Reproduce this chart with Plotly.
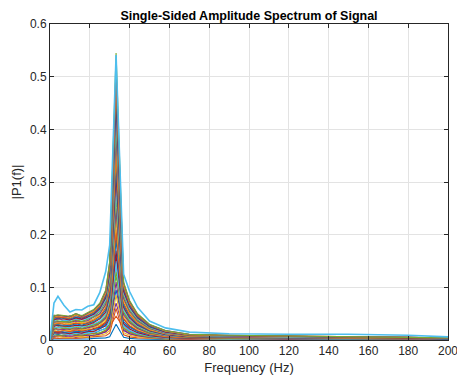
import plotly.graph_objects as go

# Frequency grid (Hz) shared by all spectra
freq = [0, 2, 4, 7, 10, 13, 16, 19, 22, 25, 28, 30, 33.2, 37, 40, 44, 50, 58, 70, 90, 120, 150, 180, 200]

# Amplitude spectra |P1(f)| (one list per signal, drawn in this order)
t00 = [0, 0.012, 0.010, 0.014, 0.011, 0.009, 0.013, 0.015, 0.012, 0.018, 0.022, 0.030, 0.095, 0.028, 0.017, 0.011, 0.007, 0.004, 0.003, 0.002, 0.002, 0.002, 0.001, 0.001]
t01 = [0, 0.030, 0.026, 0.022, 0.028, 0.024, 0.020, 0.027, 0.031, 0.026, 0.034, 0.050, 0.200, 0.060, 0.038, 0.024, 0.014, 0.008, 0.005, 0.004, 0.003, 0.003, 0.003, 0.002]
t02 = [0, 0.041, 0.036, 0.030, 0.034, 0.039, 0.033, 0.030, 0.037, 0.045, 0.058, 0.088, 0.360, 0.080, 0.050, 0.033, 0.020, 0.012, 0.008, 0.006, 0.005, 0.004, 0.004, 0.003]
t03 = [0, 0.005, 0.009, 0.006, 0.008, 0.005, 0.007, 0.010, 0.007, 0.011, 0.016, 0.022, 0.070, 0.020, 0.012, 0.008, 0.005, 0.003, 0.002, 0.002, 0.001, 0.001, 0.001, 0.001]
t04 = [0, 0.020, 0.024, 0.027, 0.022, 0.019, 0.025, 0.029, 0.024, 0.031, 0.040, 0.062, 0.240, 0.052, 0.034, 0.022, 0.013, 0.008, 0.005, 0.004, 0.003, 0.003, 0.002, 0.002]
t05 = [0, 0.035, 0.031, 0.038, 0.033, 0.029, 0.036, 0.034, 0.040, 0.050, 0.066, 0.104, 0.400, 0.090, 0.058, 0.038, 0.023, 0.013, 0.008, 0.007, 0.006, 0.005, 0.004, 0.003]
t06 = [0, 0.016, 0.014, 0.018, 0.020, 0.015, 0.019, 0.017, 0.022, 0.024, 0.032, 0.046, 0.160, 0.040, 0.026, 0.017, 0.010, 0.006, 0.004, 0.003, 0.003, 0.002, 0.002, 0.001]
t07 = [0, 0.044, 0.040, 0.044, 0.038, 0.042, 0.047, 0.043, 0.050, 0.060, 0.080, 0.125, 0.440, 0.100, 0.066, 0.044, 0.027, 0.016, 0.009, 0.008, 0.007, 0.006, 0.005, 0.004]
t08 = [0, 0.008, 0.006, 0.010, 0.012, 0.009, 0.007, 0.011, 0.013, 0.012, 0.018, 0.026, 0.045, 0.024, 0.014, 0.009, 0.006, 0.004, 0.003, 0.002, 0.002, 0.001, 0.001, 0.001]
t09 = [0, 0.027, 0.030, 0.025, 0.029, 0.033, 0.028, 0.031, 0.034, 0.040, 0.052, 0.080, 0.300, 0.070, 0.045, 0.029, 0.017, 0.010, 0.006, 0.005, 0.004, 0.004, 0.003, 0.002]
t10 = [0, 0.038, 0.042, 0.036, 0.041, 0.037, 0.043, 0.040, 0.045, 0.056, 0.074, 0.116, 0.420, 0.094, 0.062, 0.041, 0.025, 0.015, 0.009, 0.007, 0.006, 0.006, 0.005, 0.003]
t11 = [0, 0.024, 0.019, 0.023, 0.026, 0.022, 0.018, 0.024, 0.029, 0.034, 0.044, 0.068, 0.120, 0.058, 0.036, 0.023, 0.014, 0.008, 0.005, 0.004, 0.004, 0.003, 0.003, 0.002]
t12 = [0, 0.013, 0.017, 0.015, 0.012, 0.017, 0.015, 0.013, 0.018, 0.021, 0.028, 0.040, 0.140, 0.034, 0.022, 0.014, 0.009, 0.005, 0.003, 0.003, 0.002, 0.002, 0.002, 0.001]
t13 = [0, 0.047, 0.045, 0.041, 0.046, 0.043, 0.040, 0.047, 0.054, 0.064, 0.086, 0.136, 0.480, 0.104, 0.070, 0.047, 0.028, 0.017, 0.010, 0.008, 0.007, 0.006, 0.006, 0.004]

s00 = [0, 0.002, 0.002, 0.002, 0.001, 0.002, 0.002, 0.002, 0.003, 0.003, 0.004, 0.006, 0.030, 0.005, 0.003, 0.002, 0.001, 0.001, 0.001, 0.001, 0.001, 0.001, 0.001, 0.001]
s01 = [0, 0.004, 0.003, 0.004, 0.004, 0.003, 0.004, 0.004, 0.005, 0.007, 0.008, 0.013, 0.060, 0.010, 0.006, 0.004, 0.003, 0.002, 0.001, 0.001, 0.001, 0.001, 0.001, 0.001]
s02 = [0, 0.006, 0.007, 0.005, 0.005, 0.007, 0.006, 0.006, 0.008, 0.009, 0.012, 0.018, 0.085, 0.014, 0.009, 0.006, 0.004, 0.002, 0.002, 0.001, 0.001, 0.001, 0.001, 0.001]
s03 = [0, 0.007, 0.008, 0.009, 0.007, 0.008, 0.010, 0.008, 0.009, 0.012, 0.015, 0.024, 0.110, 0.018, 0.012, 0.008, 0.005, 0.003, 0.002, 0.002, 0.001, 0.001, 0.001, 0.001]
s04 = [0, 0.010, 0.009, 0.009, 0.011, 0.010, 0.009, 0.012, 0.011, 0.014, 0.019, 0.030, 0.130, 0.022, 0.015, 0.010, 0.006, 0.004, 0.003, 0.002, 0.002, 0.002, 0.001, 0.001]
s05 = [0, 0.011, 0.013, 0.011, 0.010, 0.013, 0.012, 0.013, 0.015, 0.017, 0.023, 0.036, 0.150, 0.026, 0.018, 0.012, 0.007, 0.004, 0.003, 0.002, 0.002, 0.002, 0.002, 0.001]
s06 = [0, 0.014, 0.013, 0.014, 0.012, 0.015, 0.013, 0.016, 0.016, 0.021, 0.027, 0.042, 0.170, 0.031, 0.021, 0.014, 0.008, 0.005, 0.003, 0.003, 0.002, 0.003, 0.002, 0.001]
s07 = [0, 0.015, 0.017, 0.015, 0.015, 0.016, 0.016, 0.017, 0.020, 0.022, 0.030, 0.048, 0.190, 0.035, 0.024, 0.016, 0.010, 0.006, 0.004, 0.003, 0.003, 0.002, 0.002, 0.001]
s08 = [0, 0.017, 0.016, 0.018, 0.016, 0.019, 0.017, 0.020, 0.021, 0.026, 0.034, 0.054, 0.210, 0.040, 0.027, 0.018, 0.011, 0.006, 0.004, 0.003, 0.003, 0.003, 0.002, 0.002]
s09 = [0, 0.018, 0.020, 0.019, 0.018, 0.021, 0.019, 0.021, 0.024, 0.028, 0.038, 0.060, 0.230, 0.044, 0.030, 0.020, 0.012, 0.007, 0.005, 0.004, 0.003, 0.003, 0.002, 0.002]
s10 = [0, 0.021, 0.021, 0.020, 0.022, 0.021, 0.022, 0.023, 0.026, 0.032, 0.042, 0.066, 0.250, 0.048, 0.033, 0.022, 0.013, 0.008, 0.005, 0.004, 0.004, 0.003, 0.003, 0.002]
s11 = [0, 0.022, 0.024, 0.022, 0.021, 0.025, 0.022, 0.026, 0.028, 0.034, 0.046, 0.072, 0.270, 0.053, 0.036, 0.024, 0.014, 0.009, 0.005, 0.004, 0.004, 0.003, 0.003, 0.002]
s12 = [0, 0.025, 0.024, 0.025, 0.023, 0.026, 0.025, 0.027, 0.031, 0.036, 0.049, 0.078, 0.290, 0.057, 0.039, 0.026, 0.016, 0.009, 0.006, 0.005, 0.004, 0.004, 0.003, 0.002]
s13 = [0, 0.026, 0.028, 0.026, 0.026, 0.028, 0.027, 0.029, 0.033, 0.040, 0.053, 0.084, 0.310, 0.062, 0.042, 0.028, 0.017, 0.010, 0.006, 0.005, 0.004, 0.004, 0.003, 0.002]
s14 = [0, 0.029, 0.029, 0.028, 0.027, 0.031, 0.028, 0.032, 0.035, 0.042, 0.057, 0.090, 0.330, 0.066, 0.045, 0.030, 0.018, 0.011, 0.007, 0.005, 0.005, 0.004, 0.004, 0.002]
s15 = [0, 0.030, 0.032, 0.030, 0.030, 0.032, 0.031, 0.033, 0.038, 0.045, 0.061, 0.096, 0.350, 0.070, 0.048, 0.032, 0.019, 0.012, 0.007, 0.006, 0.005, 0.004, 0.004, 0.003]
s16 = [0, 0.032, 0.033, 0.033, 0.031, 0.035, 0.032, 0.036, 0.040, 0.048, 0.065, 0.102, 0.370, 0.075, 0.051, 0.034, 0.020, 0.012, 0.007, 0.006, 0.005, 0.005, 0.004, 0.003]
s17 = [0, 0.034, 0.035, 0.034, 0.034, 0.036, 0.035, 0.037, 0.043, 0.050, 0.068, 0.108, 0.390, 0.079, 0.054, 0.036, 0.022, 0.013, 0.008, 0.006, 0.006, 0.005, 0.004, 0.003]
s18 = [0, 0.036, 0.036, 0.035, 0.034, 0.039, 0.035, 0.040, 0.044, 0.054, 0.072, 0.114, 0.410, 0.084, 0.057, 0.038, 0.023, 0.014, 0.008, 0.007, 0.006, 0.005, 0.005, 0.003]
s19 = [0, 0.037, 0.039, 0.037, 0.037, 0.040, 0.038, 0.041, 0.047, 0.056, 0.076, 0.120, 0.430, 0.088, 0.060, 0.040, 0.024, 0.014, 0.009, 0.007, 0.006, 0.006, 0.005, 0.003]
s20 = [0, 0.039, 0.040, 0.040, 0.038, 0.042, 0.039, 0.044, 0.049, 0.059, 0.080, 0.126, 0.450, 0.092, 0.063, 0.042, 0.025, 0.015, 0.009, 0.008, 0.007, 0.006, 0.005, 0.003]
s21 = [0, 0.041, 0.043, 0.041, 0.040, 0.044, 0.042, 0.046, 0.051, 0.062, 0.084, 0.132, 0.470, 0.097, 0.066, 0.044, 0.026, 0.016, 0.010, 0.008, 0.007, 0.006, 0.005, 0.004]
s22 = [0, 0.043, 0.044, 0.043, 0.041, 0.047, 0.043, 0.048, 0.053, 0.064, 0.087, 0.138, 0.490, 0.101, 0.069, 0.046, 0.028, 0.017, 0.010, 0.008, 0.007, 0.006, 0.006, 0.004]
s23 = [0, 0.044, 0.046, 0.045, 0.043, 0.048, 0.045, 0.049, 0.055, 0.066, 0.090, 0.143, 0.505, 0.105, 0.071, 0.048, 0.029, 0.017, 0.010, 0.009, 0.008, 0.007, 0.006, 0.004]
s24 = [0, 0.045, 0.047, 0.046, 0.044, 0.050, 0.045, 0.051, 0.057, 0.068, 0.093, 0.147, 0.520, 0.108, 0.073, 0.049, 0.029, 0.018, 0.011, 0.009, 0.008, 0.007, 0.006, 0.004]
s25 = [0, 0.046, 0.048, 0.047, 0.045, 0.050, 0.046, 0.052, 0.058, 0.070, 0.095, 0.150, 0.545, 0.110, 0.075, 0.050, 0.030, 0.018, 0.011, 0.009, 0.008, 0.007, 0.006, 0.004]
s26 = [0, 0.070, 0.083, 0.066, 0.053, 0.058, 0.057, 0.064, 0.067, 0.090, 0.130, 0.180, 0.541, 0.125, 0.092, 0.062, 0.036, 0.023, 0.015, 0.012, 0.011, 0.011, 0.009, 0.006]

spectra = [t00, t01, t02, t03, t04, t05, t06, t07, t08, t09, t10, t11, t12, t13,
           s00, s01, s02, s03, s04, s05, s06, s07, s08, s09, s10, s11, s12, s13,
           s14, s15, s16, s17, s18, s19, s20, s21, s22, s23, s24, s25, s26]

# MATLAB default color order
colors = ["#0072BD", "#D95319", "#EDB120", "#7E2F8E", "#77AC30", "#4DBEEE", "#A2142F"]

x_ticks = [0, 20, 40, 60, 80, 100, 120, 140, 160, 180, 200]
y_ticks = [0, 0.1, 0.2, 0.3, 0.4, 0.5, 0.6]
y_tick_text = ["0", "0.1", "0.2", "0.3", "0.4", "0.5", "0.6"]

FONT = "Liberation Sans, Arial, Helvetica"

fig = go.Figure()
n = len(spectra)
for i, s in enumerate(spectra):
    fig.add_trace(go.Scatter(
        x=freq, y=s, mode="lines",
        line=dict(color=colors[i % 7], width=1.6 if i == n - 1 else 1.1),
        showlegend=False, hoverinfo="skip",
    ))

axis_common = dict(
    showline=True, linecolor="#262626", linewidth=1, mirror="all",
    ticks="inside", ticklen=4, tickcolor="#262626",
    showgrid=True, gridcolor="#e3e3e3", gridwidth=1,
    zeroline=False, ticklabeloverflow="allow", automargin=False,
    tickfont=dict(family=FONT, size=12, color="#262626"),
)

fig.update_layout(
    width=457, height=379,
    margin=dict(l=50, r=9, t=24, b=39, autoexpand=False),
    paper_bgcolor="white", plot_bgcolor="white",
    title=dict(
        text="<b>Single-Sided Amplitude Spectrum of Signal</b>",
        xref="paper", x=0.5, xanchor="center",
        yref="container", y=0.958, yanchor="middle",
        font=dict(family=FONT, size=12.5, color="#000000"),
    ),
    xaxis=dict(
        range=[0, 200], tickvals=x_ticks,
        title=dict(text="Frequency (Hz)", standoff=5,
                   font=dict(family=FONT, size=13, color="#262626")),
        **axis_common,
    ),
    yaxis=dict(
        range=[0, 0.6], tickvals=y_ticks, ticktext=y_tick_text,
        title=dict(text="|P1(f)|", standoff=5,
                   font=dict(family=FONT, size=13, color="#262626")),
        **axis_common,
    ),
)

fig.write_html("out.html")
